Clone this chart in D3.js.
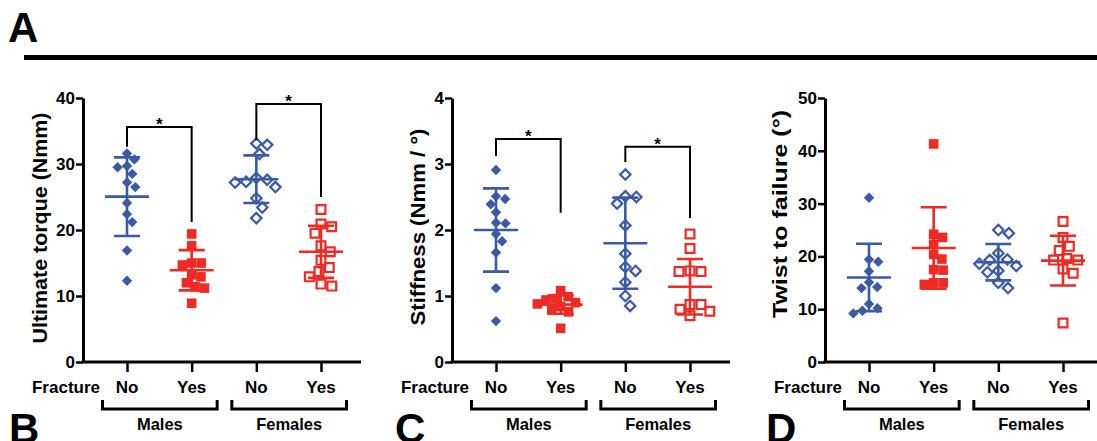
<!DOCTYPE html>
<html>
<head>
<meta charset="utf-8">
<script src="https://cdn.jsdelivr.net/npm/d3@7"></script>
<style>
  body { margin: 0; background: #fff; }
  text { font-family: "Liberation Sans", Arial, Helvetica, sans-serif; font-weight: bold; fill: #000; }
</style>
</head>
<body>
<script>
// groups, in order: Males/No, Males/Yes, Females/No, Females/Yes
const fractureLabels = ["No", "Yes", "No", "Yes"];
const sexLabels = ["Males", "Females"];

// Ultimate torque (Nmm)
const torqueMaleNo = [31.6, 30.7, 29.7, 29.5, 28.5, 27.2, 26.5, 24.1, 22.4, 21.2, 16.9, 12.3];
const torqueMaleYes = [19.4, 17.6, 15.0, 14.7, 15.0, 13.2, 12.9, 12.0, 11.4, 11.2, 8.9];
const torqueFemaleNo = [32.9, 33.1, 31.5, 27.9, 27.3, 27.6, 27.2, 26.5, 24.8, 23.4, 21.8];
const torqueFemaleYes = [23.1, 20.9, 20.5, 19.5, 17.6, 16.7, 15.4, 14.3, 13.7, 12.9, 11.8, 11.5];
const torqueMean = [25.05, 13.9, 27.7, 16.7];
const torqueSD = [5.95, 3.05, 3.6, 3.95];
const torqueTicks = [0, 10, 20, 30, 40];
// [from group, to group, top, left leg end, right leg end]
const torqueSig = [[0, 1, 35.6, 32.6, 21.2], [2, 3, 39.1, 33.6, 25.0]];

// Stiffness (Nmm / deg)
const stiffMaleNo = [2.91, 2.47, 2.51, 2.39, 2.27, 2.10, 2.11, 1.94, 1.83, 1.66, 1.12, 0.62];
const stiffMaleYes = [1.08, 0.96, 0.99, 0.94, 0.90, 0.84, 0.79, 0.76, 0.88, 0.51];
const stiffFemaleNo = [2.84, 2.50, 2.51, 2.40, 2.07, 1.64, 1.44, 1.38, 1.21, 1.00, 0.85];
const stiffFemaleYes = [1.94, 1.72, 1.37, 1.37, 1.38, 0.87, 0.87, 0.80, 0.77, 0.70];
const stiffMean = [2.0, 0.87, 1.80, 1.14];
const stiffSD = [0.63, 0.14, 0.69, 0.42];
const stiffTicks = [0, 1, 2, 3, 4];
const stiffSig = [[0, 1, 3.38, 3.12, 2.26], [2, 3, 3.26, 3.03, 2.18]];

// Twist to failure (deg)
const twistMaleNo = [31.1, 17.2, 19.0, 19.4, 15.1, 14.2, 14.0, 10.2, 9.2, 9.7, 11.0];
const twistMaleYes = [41.3, 23.6, 24.2, 22.3, 20.4, 19.5, 17.4, 17.5, 15.0, 15.0, 14.7];
const twistFemaleNo = [25.0, 24.4, 20.6, 19.3, 19.4, 18.2, 18.6, 17.0, 17.3, 15.0, 14.0];
const twistFemaleYes = [26.6, 23.6, 21.9, 21.1, 19.3, 19.3, 17.6, 16.8, 19.6, 7.4];
const twistMean = [16.0, 21.6, 18.9, 19.2];
const twistSD = [6.4, 7.7, 3.45, 4.7];
const twistTicks = [0, 10, 20, 30, 40, 50];
const twistSig = [];

const blue = "#3a5aa8", red = "#ed2a24";
const groupColor = [blue, red, blue, red];
const groupShape = ["diamond", "square", "diamond", "square"];
const groupFilled = [true, true, false, false];

const panels = [
  { letter: "B", letterX: 9, axisX: 83, title: "Ultimate torque (Nmm)", titleX: -36, titleY: 228, titleLen: 231,
    values: [torqueMaleNo, torqueMaleYes, torqueFemaleNo, torqueFemaleYes], mean: torqueMean, sd: torqueSD,
    ticks: torqueTicks, sig: torqueSig },
  { letter: "C", letterX: 395, axisX: 452, title: "Stiffness (Nmm / \u00b0)", titleX: -27, titleY: 227, titleLen: 197,
    values: [stiffMaleNo, stiffMaleYes, stiffFemaleNo, stiffFemaleYes], mean: stiffMean, sd: stiffSD,
    ticks: stiffTicks, sig: stiffSig },
  { letter: "D", letterX: 766, axisX: 825, title: "Twist to failure (\u00b0)", titleX: -38, titleY: 214, titleLen: 208,
    values: [twistMaleNo, twistMaleYes, twistFemaleNo, twistFemaleYes], mean: twistMean, sd: twistSD,
    ticks: twistTicks, sig: twistSig }
];

const width = 1097, height = 441;
const plotTop = 98, plotBottom = 362;

const svg = d3.select("body").append("svg")
  .attr("width", width)
  .attr("height", height);

// panel A header + rule
svg.append("text").attr("x", 8).attr("y", 42).attr("font-size", 42).text("A");
svg.append("line")
  .attr("x1", 24).attr("x2", width).attr("y1", 57.5).attr("y2", 57.5)
  .attr("stroke", "#000").attr("stroke-width", 5);

// simple beeswarm so markers don't sit on top of each other
function swarm(vals, y, cx, d) {
  const order = vals.map(v => ({ v: v, py: y(v), dx: 0 })).sort((a, b) => a.py - b.py);
  const placed = [];
  for (const p of order) {
    const cands = [0];
    for (const q of placed) {
      const dy = Math.abs(q.py - p.py);
      if (dy < d) {
        const dx = Math.sqrt(d * d - dy * dy);
        cands.push(q.dx + dx, q.dx - dx);
      }
    }
    cands.sort((a, b) => Math.abs(a) - Math.abs(b));
    for (const c of cands) {
      if (placed.every(q => (q.dx - c) ** 2 + (q.py - p.py) ** 2 >= d * d - 0.01)) { p.dx = c; break; }
    }
    placed.push(p);
  }
  return placed.map(p => ({ x: cx + p.dx, y: p.py }));
}

function markerPath(shape, filled) {
  if (shape === "diamond") {
    const r = 5.2;
    return `M0,${-r}L${r},0L0,${r}L${-r},0Z`;
  }
  const h = filled ? 4.8 : 4.4;
  return `M${-h},${-h}H${h}V${h}H${-h}Z`;
}

panels.forEach(function(p) {
  const g = svg.append("g");
  const ax = p.axisX;

  const y = d3.scaleLinear()
    .domain([0, p.ticks[p.ticks.length - 1]])
    .range([plotBottom, plotTop]);

  const x = d3.scalePoint()
    .domain(d3.range(4))
    .range([ax + 44, ax + 238]);

  // y axis
  const yAxis = g.append("g")
    .attr("transform", "translate(" + ax + ",0)")
    .call(d3.axisLeft(y).tickValues(p.ticks).tickFormat(d3.format("d"))
      .tickSize(7).tickSizeOuter(0).tickPadding(1));
  yAxis.select(".domain").attr("stroke-width", 3);
  yAxis.selectAll(".tick line").attr("stroke-width", 2.5);
  yAxis.selectAll(".tick text")
    .attr("font-size", 17)
    .attr("font-family", "Liberation Sans, Arial, sans-serif")
    .attr("font-weight", "bold");

  // x axis: ticks from the point scale, line drawn across the whole panel
  const xAxis = g.append("g")
    .attr("transform", "translate(0," + plotBottom + ")")
    .call(d3.axisBottom(x).tickSize(10).tickSizeOuter(0).tickFormat(""));
  xAxis.select(".domain").remove();
  xAxis.selectAll(".tick line").attr("stroke-width", 2.5);
  g.append("line")
    .attr("x1", ax - 1.5).attr("x2", ax + 278)
    .attr("y1", plotBottom).attr("y2", plotBottom)
    .attr("stroke", "#000").attr("stroke-width", 3);

  // y title
  g.append("text")
    .attr("transform", "translate(" + (ax + p.titleX) + "," + p.titleY + ") rotate(-90)")
    .attr("text-anchor", "middle")
    .attr("font-size", 20)
    .attr("textLength", p.titleLen)
    .attr("lengthAdjust", "spacingAndGlyphs")
    .text(p.title);

  // category labels
  g.append("text")
    .attr("x", ax + 17).attr("y", 393)
    .attr("text-anchor", "end").attr("font-size", 17)
    .text("Fracture");
  g.selectAll(".flab")
    .data(fractureLabels)
    .enter().append("text")
    .attr("x", (d, i) => x(i)).attr("y", 393)
    .attr("text-anchor", "middle").attr("font-size", 17)
    .text(d => d);

  sexLabels.forEach(function(s, k) {
    const x0 = x(2 * k) - 24.5, x1 = x(2 * k + 1) + 25.5;
    g.append("path")
      .attr("d", `M${x0},400V409H${x1}V400`)
      .attr("fill", "none").attr("stroke", "#000").attr("stroke-width", 3);
    g.append("text")
      .attr("x", (x0 + x1) / 2).attr("y", 430)
      .attr("text-anchor", "middle").attr("font-size", 16.5)
      .text(s);
  });

  // points
  p.values.forEach(function(vals, i) {
    const pts = swarm(vals, y, x(i), groupFilled[i] ? 9.5 : 11);
    g.selectAll(".pt" + i)
      .data(pts)
      .enter().append("path")
      .attr("transform", d => "translate(" + d.x + "," + d.y + ")")
      .attr("d", markerPath(groupShape[i], groupFilled[i]))
      .attr("fill", groupFilled[i] ? groupColor[i] : "none")
      .attr("stroke", groupColor[i])
      .attr("stroke-width", groupFilled[i] ? 0 : 2.2);
  });

  // mean +/- SD
  p.mean.forEach(function(m, i) {
    const cx = x(i), s = p.sd[i], c = groupColor[i];
    const lo = y(m - s), hi = y(m + s), my = y(m);
    g.append("path")
      .attr("d", `M${cx},${hi}V${lo}M${cx - 13},${hi}H${cx + 13}M${cx - 13},${lo}H${cx + 13}M${cx - 22},${my}H${cx + 22}`)
      .attr("fill", "none").attr("stroke", c).attr("stroke-width", 2.6);
  });

  // significance brackets
  p.sig.forEach(function(s) {
    const xa = x(s[0]), xb = x(s[1]);
    const top = y(s[2]);
    g.append("path")
      .attr("d", `M${xa},${y(s[3])}V${top}H${xb}V${y(s[4])}`)
      .attr("fill", "none").attr("stroke", "#000").attr("stroke-width", 2);
    g.append("text")
      .attr("x", (xa + xb) / 2).attr("y", top + 3)
      .attr("text-anchor", "middle").attr("font-size", 17)
      .text("*");
  });

  // panel letter (its bottom edge runs off the figure, as in the original)
  g.append("text").attr("x", p.letterX).attr("y", 443).attr("font-size", 42).text(p.letter);
});
</script>
</body>
</html>
